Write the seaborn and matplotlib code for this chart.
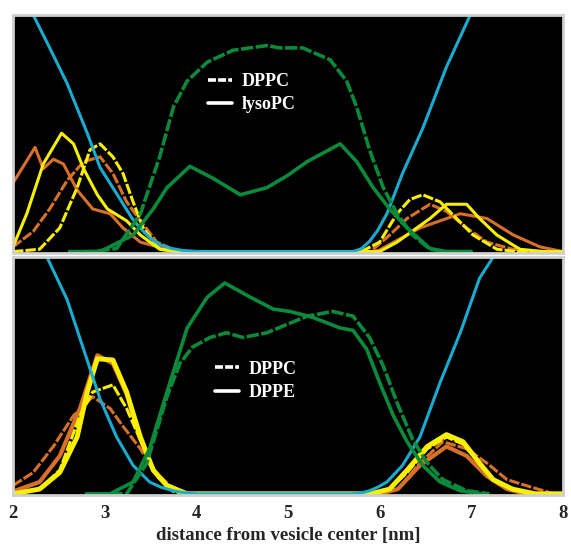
import numpy as np
import pandas as pd
import matplotlib
matplotlib.use("Agg")
import matplotlib.pyplot as plt
import seaborn as sns
from matplotlib.lines import Line2D

# ---- top panel (DPPC / lysoPC) ----
top_cyan_x = [2.0, 2.22, 2.40, 2.59, 2.81, 2.95, 3.13, 3.30, 3.39, 3.50, 3.60, 3.72, 3.85, 4.04, 5.0, 5.71, 5.80, 5.89, 5.98, 6.08, 6.25, 6.47, 6.73, 6.99, 7.2]
top_cyan_y = [1.3, 1.0, 0.86, 0.71, 0.50, 0.355, 0.245, 0.14, 0.098, 0.055, 0.03, 0.014, 0.005, 0, 0, 0, 0.012, 0.043, 0.09, 0.16, 0.33, 0.52, 0.78, 1.0, 1.25]

top_green_dppc_x = [2.6, 2.87, 3.13, 3.39, 3.6, 3.75, 3.9, 4.12, 4.40, 4.77, 4.91, 5.16, 5.46, 5.64, 5.75, 5.89, 6.04, 6.19, 6.36, 6.55, 6.73, 7.0]
top_green_dppc_y = [0, 0, 0.013, 0.16, 0.40, 0.61, 0.72, 0.80, 0.85, 0.87, 0.86, 0.86, 0.81, 0.72, 0.61, 0.43, 0.27, 0.16, 0.07, 0.01, 0, 0]
top_green_lyso_x = [2.7, 2.95, 3.31, 3.53, 3.68, 3.93, 4.18, 4.48, 4.77, 4.99, 5.21, 5.57, 5.75, 5.93, 6.11, 6.30, 6.55, 6.73, 7.0]
top_green_lyso_y = [0, 0, 0.07, 0.18, 0.27, 0.36, 0.31, 0.24, 0.27, 0.32, 0.38, 0.455, 0.38, 0.27, 0.18, 0.10, 0.013, 0, 0]

top_yellow_lyso_x = [2.0, 2.15, 2.33, 2.53, 2.66, 2.77, 2.92, 3.03, 3.24, 3.39, 3.6, 3.8, 6.0, 6.19, 6.55, 6.73, 6.95, 7.09, 7.28, 7.53, 7.8, 8.0]
top_yellow_lyso_y = [0.02, 0.16, 0.37, 0.50, 0.455, 0.35, 0.24, 0.18, 0.13, 0.07, 0.01, 0, 0, 0.04, 0.14, 0.20, 0.20, 0.14, 0.07, 0.01, 0, 0]
top_orange_lyso_x = [2.0, 2.24, 2.33, 2.44, 2.55, 2.70, 2.87, 3.06, 3.2, 3.39, 3.68, 3.9, 5.9, 5.99, 6.44, 6.88, 7.17, 7.46, 7.75, 8.0]
top_orange_lyso_y = [0.29, 0.44, 0.35, 0.39, 0.37, 0.26, 0.18, 0.16, 0.10, 0.04, 0.01, 0, 0, 0.005, 0.10, 0.16, 0.14, 0.07, 0.02, 0]
top_yellow_dppc_x = [2.0, 2.29, 2.51, 2.70, 2.84, 2.95, 3.09, 3.2, 3.31, 3.42, 3.6, 3.8, 5.8, 6.0, 6.19, 6.33, 6.47, 6.66, 6.84, 7.02, 7.28, 7.5, 8.0]
top_yellow_dppc_y = [0, 0.01, 0.10, 0.27, 0.43, 0.455, 0.40, 0.33, 0.21, 0.10, 0.01, 0, 0, 0.04, 0.16, 0.22, 0.24, 0.21, 0.14, 0.07, 0.01, 0, 0]
top_orange_dppc_x = [2.0, 2.22, 2.40, 2.59, 2.77, 2.95, 3.09, 3.24, 3.39, 3.57, 3.8, 5.9, 6.11, 6.30, 6.55, 6.73, 6.95, 7.17, 7.45, 7.7, 8.0]
top_orange_dppc_y = [0.02, 0.085, 0.18, 0.30, 0.38, 0.40, 0.33, 0.21, 0.13, 0.04, 0, 0, 0.07, 0.14, 0.20, 0.17, 0.10, 0.04, 0.01, 0, 0]

# ---- bottom panel (DPPC / DPPE) ----
bot_cyan_x = [2.0, 2.2, 2.37, 2.59, 2.77, 2.95, 3.13, 3.31, 3.49, 3.62, 3.75, 3.88, 4.0, 5.7, 5.80, 5.89, 5.98, 6.08, 6.25, 6.44, 6.66, 6.88, 7.09, 7.24, 7.4]
bot_cyan_y = [1.4, 1.12, 1.0, 0.82, 0.61, 0.40, 0.24, 0.12, 0.05, 0.027, 0.013, 0.004, 0, 0, 0.004, 0.013, 0.028, 0.05, 0.12, 0.24, 0.47, 0.68, 0.91, 1.0, 1.2]

bot_green_dppe_x = [2.8, 3.06, 3.31, 3.49, 3.68, 3.90, 4.12, 4.31, 4.59, 4.84, 5.02, 5.27, 5.57, 5.71, 5.86, 6.0, 6.15, 6.30, 6.47, 6.66, 6.88, 7.1]
bot_green_dppe_y = [0, 0, 0.05, 0.19, 0.43, 0.70, 0.83, 0.89, 0.83, 0.78, 0.77, 0.745, 0.70, 0.69, 0.61, 0.47, 0.33, 0.22, 0.12, 0.05, 0.013, 0]
bot_green_dppc_x = [2.9, 3.24, 3.46, 3.68, 3.82, 3.96, 4.15, 4.33, 4.51, 4.77, 5.02, 5.21, 5.49, 5.71, 5.89, 6.04, 6.19, 6.36, 6.52, 6.69, 6.95, 7.2]
bot_green_dppc_y = [0, 0, 0.13, 0.41, 0.55, 0.62, 0.66, 0.68, 0.66, 0.68, 0.72, 0.75, 0.77, 0.75, 0.66, 0.54, 0.385, 0.23, 0.13, 0.06, 0.013, 0]

bot_yellow_dppe_x = [2.0, 2.29, 2.51, 2.70, 2.81, 2.92, 3.09, 3.24, 3.39, 3.53, 3.68, 3.9, 5.9, 6.11, 6.30, 6.52, 6.73, 6.91, 7.09, 7.24, 7.45, 7.7, 8.0]
bot_yellow_dppe_y = [0, 0.02, 0.09, 0.24, 0.43, 0.57, 0.565, 0.43, 0.24, 0.10, 0.035, 0, 0, 0.02, 0.10, 0.20, 0.25, 0.22, 0.13, 0.06, 0.02, 0, 0]
bot_orange_dppe_x = [2.0, 2.29, 2.51, 2.73, 2.92, 3.09, 3.24, 3.39, 3.53, 3.68, 3.9, 6.0, 6.2, 6.44, 6.73, 6.95, 7.17, 7.39, 7.6, 8.0]
bot_orange_dppe_y = [0.01, 0.05, 0.16, 0.36, 0.585, 0.55, 0.42, 0.23, 0.10, 0.03, 0, 0, 0.02, 0.12, 0.20, 0.16, 0.075, 0.02, 0, 0]
bot_yellow_dppc_x = [2.0, 2.29, 2.51, 2.73, 2.87, 3.09, 3.24, 3.42, 3.57, 3.75, 3.9, 5.9, 6.11, 6.30, 6.52, 6.73, 6.91, 7.09, 7.24, 7.45, 7.7, 8.0]
bot_yellow_dppc_y = [0, 0.02, 0.10, 0.33, 0.43, 0.46, 0.36, 0.20, 0.075, 0.01, 0, 0, 0.02, 0.09, 0.19, 0.24, 0.21, 0.13, 0.06, 0.02, 0, 0]
bot_orange_dppc_x = [2.0, 2.22, 2.44, 2.66, 2.87, 3.06, 3.2, 3.39, 3.53, 3.71, 3.9, 6.0, 6.2, 6.44, 6.69, 6.95, 7.17, 7.39, 7.64, 7.9, 8.0]
bot_orange_dppc_y = [0.035, 0.09, 0.20, 0.33, 0.41, 0.36, 0.285, 0.19, 0.10, 0.035, 0, 0, 0.02, 0.13, 0.22, 0.19, 0.13, 0.06, 0.03, 0, 0]

x_ticks = [2, 3, 4, 5, 6, 7, 8]
top_labels = ["DPPC", "lysoPC"]
bot_labels = ["DPPC", "DPPE"]

CYAN = "#19acd0"
GREEN = "#0b8a3c"
YELLOW = "#f8f000"
ORANGE = "#d8702a"
DASH = (0, (3.4, 0.7))

sns.set_style("white")
plt.rcParams["font.family"] = ["Liberation Serif", "DejaVu Serif"]
plt.rcParams["font.weight"] = "bold"

fig = plt.figure(figsize=(5.71, 5.46), dpi=100)
ax1 = fig.add_axes([0.0228, 0.537, 0.963, 0.436])
ax2 = fig.add_axes([0.0228, 0.0934, 0.963, 0.436])


def draw(ax, x, y, color, dashed=False, lw=2.2):
    ls = DASH if dashed else "-"
    sns.lineplot(x=x, y=y, ax=ax, color=color, linestyle=ls, linewidth=lw,
                 estimator=None, sort=False)


# top panel
draw(ax1, top_orange_lyso_x, top_orange_lyso_y, ORANGE)
draw(ax1, top_orange_dppc_x, top_orange_dppc_y, ORANGE, dashed=True)
draw(ax1, top_yellow_lyso_x, top_yellow_lyso_y, YELLOW)
draw(ax1, top_yellow_dppc_x, top_yellow_dppc_y, YELLOW, dashed=True)
draw(ax1, top_cyan_x, top_cyan_y, CYAN)
draw(ax1, top_green_dppc_x, top_green_dppc_y, GREEN, dashed=True, lw=2.6)
draw(ax1, top_green_lyso_x, top_green_lyso_y, GREEN, lw=2.6)

# bottom panel
draw(ax2, bot_orange_dppc_x, bot_orange_dppc_y, ORANGE, dashed=True)
draw(ax2, bot_orange_dppe_x, bot_orange_dppe_y, ORANGE, lw=3)
draw(ax2, bot_yellow_dppc_x, bot_yellow_dppc_y, YELLOW, dashed=True)
draw(ax2, bot_yellow_dppe_x, bot_yellow_dppe_y, YELLOW, lw=3.5)
draw(ax2, bot_cyan_x, bot_cyan_y, CYAN)
draw(ax2, bot_green_dppc_x, bot_green_dppc_y, GREEN, dashed=True, lw=2.6)
draw(ax2, bot_green_dppe_x, bot_green_dppe_y, GREEN, lw=2.6)

for ax in (ax1, ax2):
    ax.set_facecolor("black")
    ax.set_xlim(2, 8)
    ax.set_ylim(-0.005, 1.0)
    ax.set_yticks([])
    ax.set_ylabel("")
    for s in ax.spines.values():
        s.set_visible(True)
        s.set_color("#cfcfcf")
        s.set_linewidth(2)

ax1.set_xticks([])
ax2.set_xticks(x_ticks)
ax2.set_xticklabels([str(t) for t in x_ticks], fontsize=13.5, fontweight="bold")
ax2.tick_params(axis="x", length=0, pad=7)
ax2.set_xlabel("distance from vesicle center [nm]", fontsize=13.5,
               fontweight="bold", labelpad=4)

handles = [Line2D([], [], color="white", lw=2.6, linestyle=(0, (2.2, 0.6))),
           Line2D([], [], color="white", lw=2.6)]
for ax, labs, anchor in ((ax1, top_labels, (0.355, 0.755)),
                         (ax2, bot_labels, (0.368, 0.565))):
    ax.legend(handles, labs, loc="upper left", bbox_to_anchor=anchor,
              frameon=False, labelcolor="white", handlelength=1.3,
              handletextpad=0.55, labelspacing=0.35, borderpad=0,
              borderaxespad=0, prop={"size": 13, "weight": "bold"})

fig.savefig("out.png", dpi=100, facecolor="white")
